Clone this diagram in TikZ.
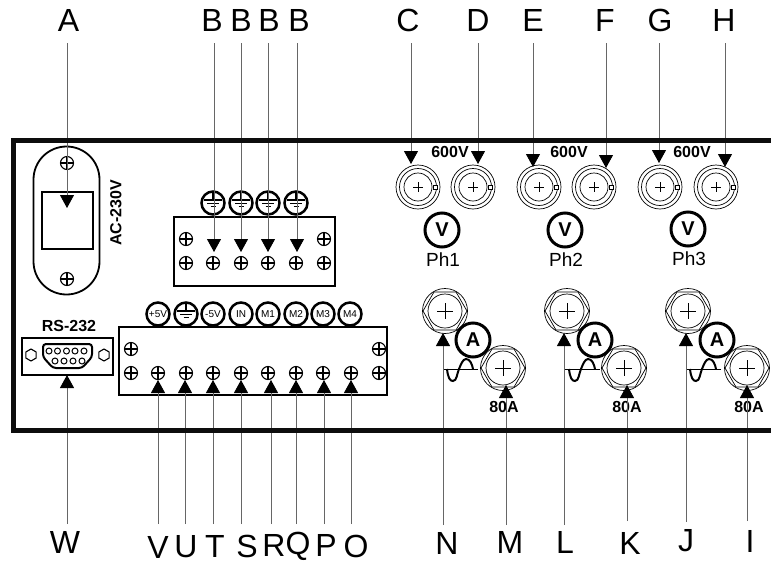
\documentclass[tikz,border=0pt]{standalone}
\usepackage{fontspec}
\setmainfont{Liberation Sans}
\usetikzlibrary{arrows.meta}
\usetikzlibrary{shapes.geometric}
\newcommand{\fsize}[1]{\fontsize{#1}{#1}\selectfont}
\tikzset{>={Triangle[width=14pt,length=13pt,color=black,fill=black]}}
\tikzset{pointer/.style={->, line width=0.9pt, draw=black!60}}
\tikzset{letter/.style={inner sep=0pt, font=\fsize{32}}}
\tikzset{tag/.style={inner sep=0pt, font=\fsize{16}\bfseries}}
\tikzset{phase/.style={inner sep=0pt, font=\fsize{19}}}
\tikzset{panel/.style={draw=black, line width=2.2pt, inner sep=0pt}}
\tikzset{meter/.style={circle, draw=black, fill=white, line width=3pt, minimum size=34pt, inner sep=0pt, font=\fsize{20}\bfseries}}
\tikzset{pinlabel/.style={circle, draw=black, fill=white, line width=2.5pt, minimum size=23pt, inner sep=0pt, font=\fsize{10}}}
\tikzset{screw/.style={circle, draw=black, line width=1.1pt, minimum size=13pt, inner sep=0pt,
  path picture={\draw[line width=1.1pt] (path picture bounding box.north) -- (path picture bounding box.south)
    (path picture bounding box.west) -- (path picture bounding box.east);}}}
\tikzset{hexhole/.style={regular polygon, regular polygon sides=6, regular polygon rotate=30, draw=black, line width=1.1pt, minimum size=12pt, inner sep=0pt}}
\tikzset{pinhole/.style={circle, draw=black, line width=1pt, minimum size=6pt, inner sep=0pt}}
\tikzset{bnc/.pic={
  \draw[line width=0.7pt] (0,0) circle (22pt) (0,0) circle (18.5pt) (0,0) circle (14pt);
  \draw[line width=0.7pt] (-5,0) -- (5,0) (0,-5) -- (0,5);
  \draw[line width=0.7pt, fill=white] (15,-2) rectangle (19,2);
}}
\tikzset{nut/.pic={
  \draw[line width=0.7pt] (0,0) circle (22.5pt) (0,0) circle (17pt);
  \draw[line width=0.7pt] (0:22) -- (60:22) -- (120:22) -- (180:22) -- (240:22) -- (300:22) -- cycle;
  \draw[line width=0.7pt] (-8,0) -- (8,0) (0,-8) -- (0,8);
}}
\tikzset{wave/.pic={
  \draw[line width=0.9pt] (0,0) -- (35,0);
  \draw[line width=2pt] (4,0) .. controls (5,9) and (7,12) .. (10,12) .. controls (14,12) and (14,4) .. (16,0)
    .. controls (18,-5) and (20,-10) .. (23,-10) .. controls (27,-10) and (29,-5) .. (30,0);
}}
\tikzset{gnd/.pic={
  \draw[line width=1.9pt] (0,-11) -- (0,-3);
  \draw[line width=1.9pt] (-9,-3) -- (9,-3) (-6,0.5) -- (6,0.5) (-2.5,3.5) -- (2.5,3.5);
}}

\begin{document}
\begin{tikzpicture}[x=1pt, y=-1pt]
        \useasboundingbox (0,0) rectangle (771,563);

        % Mains inlet
        \node at (66.5,220.5) [panel, line width=1.8pt, rounded corners=33pt, minimum width=66pt, minimum height=148pt] (inlet) {};
        \node at (67.5,220.5) [panel, minimum width=51pt, minimum height=57pt] (switch) {};
        \node at (67,163) [screw] (inlet_top) {};
        \node at (67,279) [screw] (inlet_bot) {};
        \node at (116,213) [tag, rotate=90] (ac) {AC-230V};

        % Ground block
        \node at (254.5,251.5) [panel, minimum width=161pt, minimum height=69pt] (gblock) {};
        \foreach \x in {186,324}
          \node at (\x,239) [screw] (gscrew_\x) {};
        \foreach \x in {186,213,241,268,296,324}
          \node at (\x,263) [screw] (gterm_\x) {};
        \foreach \x in {213,241,268,296} {
          \node at (\x,203) [pinlabel] (gnd_\x) {};
          \pic at (\x,203) {gnd};
        }

        % Signal block
        \node at (253,361) [panel, minimum width=268pt, minimum height=68pt] (sblock) {};
        \foreach \x in {131,379}
          \node at (\x,349) [screw] (sscrew_\x) {};
        \foreach \x in {131,158,186,213,241,268,296,323,351,379}
          \node at (\x,373) [screw] (sterm_\x) {};
        \foreach \x/\txt in {158/+5V,186/,213/-5V,241/IN,268/M1,296/M2,323/M3,350/M4}
          \node at (\x,314) [pinlabel] (sig_\x) {\txt};
        \pic at (186,314) {gnd};

        % Serial port
        \node at (67.5,356.5) [panel, minimum width=91pt, minimum height=37pt] (rsbox) {};
        \node at (69,326) [tag] (rs) {RS-232};
        \node at (31,355) [hexhole] (hex_l) {};
        \node at (104,355) [hexhole] (hex_r) {};
        \draw[line width=2pt, rounded corners=3pt] (43,344) -- (92,344) -- (92,357) -- (82,368) -- (53,368) -- (43,357) -- cycle;
        \foreach \x in {49,57.5,66.5,75,84}
          \node at (\x,351) [pinhole] (pin_\x) {};
        \foreach \x in {55,64,73,82}
          \node at (\x,361) [pinhole] (pin_\x) {};

        % Voltage inputs
        \foreach \x in {418,473,539,594,660,716}
          \pic at (\x,187) {bnc};
        \foreach \i/\x/\lx/\ly in {1/442/443/260,2/565/566/260,3/688/689/259} {
          \node at (\x,\ly-30) [meter] (volt_\i) {V};
          \node at (\lx,\ly) [phase] (ph_\i) {Ph\i};
        }
        \foreach \i/\x in {1/450,2/569,3/692}
          \node at (\x,152) [tag] (volts_\i) {600V};

        % Current inputs
        \foreach \i/\xa/\xb/\xm/\xl in {1/445/503/473/504,2/567/624/595/627,3/688/747/717/749} {
          \pic at (\xa,311) {nut};
          \pic at (\xb,368) {nut};
          \pic at (\xa-2,369) {wave};
          \node at (\xm,340) [meter] (amp_\i) {A};
          \node at (\xl,407) [tag] (amps_\i) {80A};
        }

        % Letters on top -> panel
        \foreach \id/\txt/\lx/\ax/\ty in {a/A/68.5/67/208,b1/B/212/214/252,b2/B/241/241/252,b3/B/269/268/252,b4/B/299/297/252,
            c/C/408/411/164,d/D/478/478/164,e/E/533/533/167,f/F/605/606/168,g/G/660/659/163,h/H/724/725/167} {
          \node at (\lx,20.5) [letter] (lbl_\id) {\txt};
          \coordinate (start_\id) at (\ax,43);
          \coordinate (tip_\id) at (\ax,\ty);
          \draw[pointer] (start_\id) -- (tip_\id);
        }

        % Letters below -> panel
        \foreach \id/\lx/\ly/\ax/\ay/\ty in {W/65/542/67/524/375,V/158/547/158/524/380,U/186/547/185/524/380,T/215/546/213/524/380,
            S/247/546/241/524/380,R/274/545/271/524/380,Q/298/546/296/524/380,P/326/545/324/524/380,O/356/546/351/524/380,
            N/447/543/443/525/333,M/510/542/506/525/385,L/565/542/564/525/333,K/630/543/627/521/385,J/686/541/686/522/333,I/750/541/747/521/385} {
          \node at (\lx,\ly) [letter] (lbl_\id) {\id};
          \coordinate (start_\id) at (\ax,\ay);
          \coordinate (tip_\id) at (\ax,\ty);
          \draw[pointer] (start_\id) -- (tip_\id);
        }

        % Case outline
        \draw[line width=5pt, draw=black!95] (771,140.5) -- (13,140.5) -- (13,430.5) -- (771,430.5);
\end{tikzpicture}
\end{document}
